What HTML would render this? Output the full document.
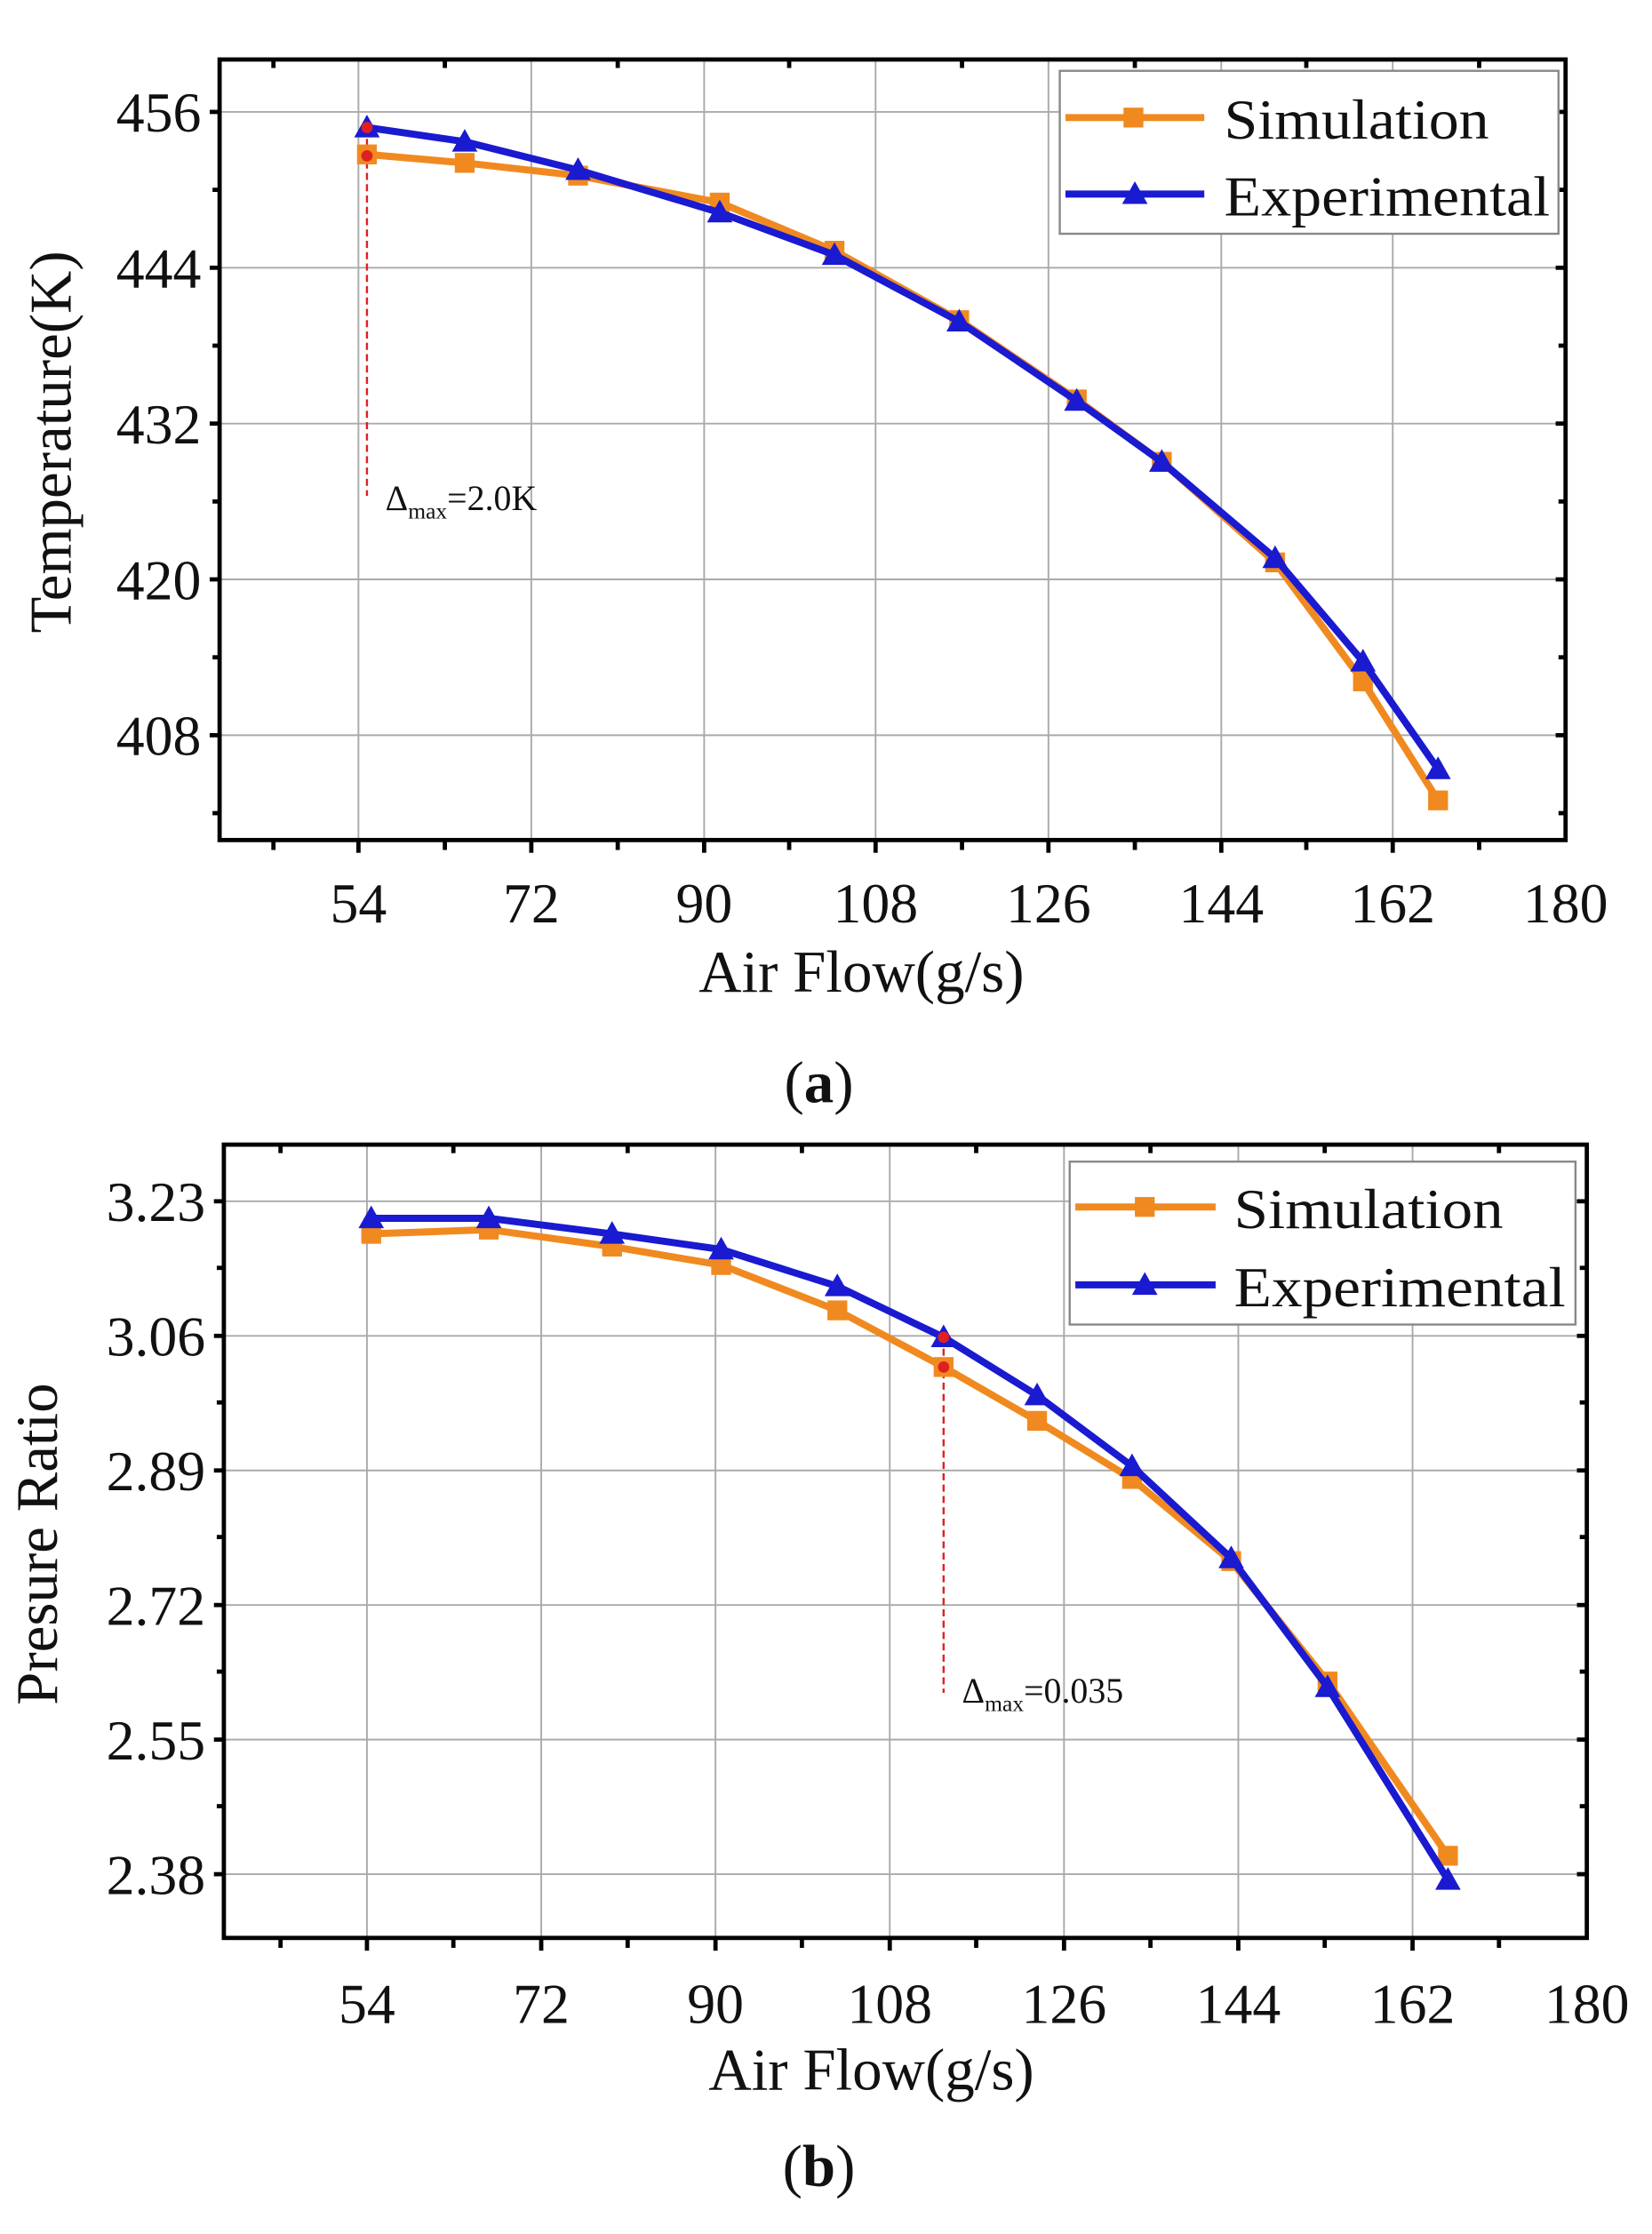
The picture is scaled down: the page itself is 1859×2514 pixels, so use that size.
<!DOCTYPE html>
<html><head><meta charset="utf-8"><style>
html,body{margin:0;padding:0;background:#fff;}
svg{display:block;}
text{font-family:"Liberation Serif",serif;fill:#111;}
</style></head><body>
<svg width="1859" height="2514" viewBox="0 0 1166 1577" preserveAspectRatio="none">
<!-- Panel A -->
<g stroke="#aaa" stroke-width="1.2">
<line x1="253" y1="42" x2="253" y2="593"/><line x1="375" y1="42" x2="375" y2="593"/><line x1="497" y1="42" x2="497" y2="593"/><line x1="618" y1="42" x2="618" y2="593"/><line x1="740" y1="42" x2="740" y2="593"/><line x1="862" y1="42" x2="862" y2="593"/><line x1="983" y1="42" x2="983" y2="593"/>
<line x1="155" y1="79" x2="1105" y2="79"/><line x1="155" y1="189" x2="1105" y2="189"/><line x1="155" y1="299" x2="1105" y2="299"/><line x1="155" y1="409" x2="1105" y2="409"/><line x1="155" y1="519" x2="1105" y2="519"/>
</g>
<rect x="155" y="42" width="950" height="551" fill="none" stroke="#000" stroke-width="3"/>
<g stroke="#000" stroke-width="3">
<line x1="148" y1="79" x2="155" y2="79"/><line x1="148" y1="189" x2="155" y2="189"/><line x1="148" y1="299" x2="155" y2="299"/><line x1="148" y1="409" x2="155" y2="409"/><line x1="148" y1="519" x2="155" y2="519"/>
<line x1="150" y1="134" x2="155" y2="134"/><line x1="150" y1="244" x2="155" y2="244"/><line x1="150" y1="354" x2="155" y2="354"/><line x1="150" y1="464" x2="155" y2="464"/><line x1="150" y1="574" x2="155" y2="574"/>
<line x1="1098" y1="79" x2="1105" y2="79"/><line x1="1098" y1="189" x2="1105" y2="189"/><line x1="1098" y1="299" x2="1105" y2="299"/><line x1="1098" y1="409" x2="1105" y2="409"/><line x1="1098" y1="519" x2="1105" y2="519"/><line x1="1100" y1="134" x2="1105" y2="134"/><line x1="1100" y1="244" x2="1105" y2="244"/><line x1="1100" y1="354" x2="1105" y2="354"/><line x1="1100" y1="464" x2="1105" y2="464"/><line x1="1100" y1="574" x2="1105" y2="574"/>
<line x1="193" y1="593" x2="193" y2="600"/><line x1="253" y1="593" x2="253" y2="602"/><line x1="314" y1="593" x2="314" y2="600"/><line x1="375" y1="593" x2="375" y2="602"/><line x1="436" y1="593" x2="436" y2="600"/><line x1="497" y1="593" x2="497" y2="602"/><line x1="557" y1="593" x2="557" y2="600"/><line x1="618" y1="593" x2="618" y2="602"/><line x1="679" y1="593" x2="679" y2="600"/><line x1="740" y1="593" x2="740" y2="602"/><line x1="801" y1="593" x2="801" y2="600"/><line x1="862" y1="593" x2="862" y2="602"/><line x1="922" y1="593" x2="922" y2="600"/><line x1="983" y1="593" x2="983" y2="602"/><line x1="1044" y1="593" x2="1044" y2="600"/>
<line x1="193" y1="42" x2="193" y2="48"/><line x1="314" y1="42" x2="314" y2="48"/><line x1="436" y1="42" x2="436" y2="48"/><line x1="557" y1="42" x2="557" y2="48"/><line x1="679" y1="42" x2="679" y2="48"/><line x1="801" y1="42" x2="801" y2="48"/><line x1="922" y1="42" x2="922" y2="48"/><line x1="1044" y1="42" x2="1044" y2="48"/>
</g>
<g font-size="40" text-anchor="end">
<text x="142" y="93">456</text><text x="142" y="203">444</text><text x="142" y="313">432</text><text x="142" y="423">420</text><text x="142" y="533">408</text>
</g>
<g font-size="40" text-anchor="middle">
<text x="253" y="651">54</text><text x="375" y="651">72</text><text x="497" y="651">90</text><text x="618" y="651">108</text><text x="740" y="651">126</text><text x="862" y="651">144</text><text x="983" y="651">162</text><text x="1105" y="651">180</text>
<text x="608" y="700" font-size="42">Air Flow(g/s)</text>
<text transform="translate(50,312) rotate(-90)" font-size="42">Temperature(K)</text>
<text x="578" y="778" font-size="42">(<tspan font-weight="bold">a</tspan>)</text>
</g>
<line x1="259" y1="90" x2="259" y2="350" stroke="#e02020" stroke-width="1.5" stroke-dasharray="5,3"/>
<text x="272" y="360" font-size="25">Δ<tspan font-size="16" dy="6">max</tspan><tspan dy="-6">=2.0K</tspan></text>
<polyline fill="none" stroke="#f08a20" stroke-width="5" points="259,109 328,115 408,124 508,143 589,177 677,226 760,282 820,326 900,397 962,481 1015,565"/>
<g fill="#f08a20">
<rect x="252" y="102" width="14" height="14"/><rect x="321" y="108" width="14" height="14"/><rect x="401" y="117" width="14" height="14"/><rect x="501" y="136" width="14" height="14"/><rect x="582" y="170" width="14" height="14"/><rect x="670" y="219" width="14" height="14"/><rect x="753" y="275" width="14" height="14"/><rect x="813" y="319" width="14" height="14"/><rect x="893" y="390" width="14" height="14"/><rect x="955" y="474" width="14" height="14"/><rect x="1008" y="558" width="14" height="14"/>
</g>
<polyline fill="none" stroke="#1a1ad0" stroke-width="5" points="259,90 328,100 408,120 508,150 589,180 677,227 760,283 820,326 900,394 962,467 1015,543"/>
<g fill="#1a1ad0">
<polygon points="259,81 250,97 268,97"/><polygon points="328,91 319,107 337,107"/><polygon points="408,111 399,127 417,127"/><polygon points="508,141 499,157 517,157"/><polygon points="589,171 580,187 598,187"/><polygon points="677,218 668,234 686,234"/><polygon points="760,274 751,290 769,290"/><polygon points="820,317 811,333 829,333"/><polygon points="900,385 891,401 909,401"/><polygon points="962,458 953,474 971,474"/><polygon points="1015,534 1006,550 1024,550"/>
</g>
<circle cx="259" cy="110" r="4" fill="#e02020"/><circle cx="259" cy="90" r="4" fill="#e02020"/>
<rect x="748" y="50" width="352" height="115" fill="#fff" stroke="#888" stroke-width="1.5"/>
<line x1="752" y1="83" x2="850" y2="83" stroke="#f08a20" stroke-width="5"/><rect x="793" y="76" width="14" height="14" fill="#f08a20"/>
<line x1="752" y1="137" x2="850" y2="137" stroke="#1a1ad0" stroke-width="5"/><polygon points="801,128 792,144 810,144" fill="#1a1ad0"/>
<text x="864" y="98" font-size="40" textLength="187" lengthAdjust="spacingAndGlyphs">Simulation</text><text x="864" y="152" font-size="40" textLength="230" lengthAdjust="spacingAndGlyphs">Experimental</text>

<!-- Panel B -->
<g stroke="#aaa" stroke-width="1.2">
<line x1="259" y1="808" x2="259" y2="1368"/><line x1="382" y1="808" x2="382" y2="1368"/><line x1="505" y1="808" x2="505" y2="1368"/><line x1="628" y1="808" x2="628" y2="1368"/><line x1="751" y1="808" x2="751" y2="1368"/><line x1="874" y1="808" x2="874" y2="1368"/><line x1="997" y1="808" x2="997" y2="1368"/>
<line x1="158" y1="848" x2="1120" y2="848"/><line x1="158" y1="943" x2="1120" y2="943"/><line x1="158" y1="1038" x2="1120" y2="1038"/><line x1="158" y1="1133" x2="1120" y2="1133"/><line x1="158" y1="1228" x2="1120" y2="1228"/><line x1="158" y1="1323" x2="1120" y2="1323"/>
</g>
<rect x="158" y="808" width="962" height="560" fill="none" stroke="#000" stroke-width="3"/>
<g stroke="#000" stroke-width="3">
<line x1="151" y1="848" x2="158" y2="848"/><line x1="151" y1="943" x2="158" y2="943"/><line x1="151" y1="1038" x2="158" y2="1038"/><line x1="151" y1="1133" x2="158" y2="1133"/><line x1="151" y1="1228" x2="158" y2="1228"/><line x1="151" y1="1323" x2="158" y2="1323"/>
<line x1="153" y1="895" x2="158" y2="895"/><line x1="153" y1="990" x2="158" y2="990"/><line x1="153" y1="1085" x2="158" y2="1085"/><line x1="153" y1="1180" x2="158" y2="1180"/><line x1="153" y1="1275" x2="158" y2="1275"/>
<line x1="1113" y1="848" x2="1120" y2="848"/><line x1="1113" y1="943" x2="1120" y2="943"/><line x1="1113" y1="1038" x2="1120" y2="1038"/><line x1="1113" y1="1133" x2="1120" y2="1133"/><line x1="1113" y1="1228" x2="1120" y2="1228"/><line x1="1113" y1="1323" x2="1120" y2="1323"/><line x1="1115" y1="895" x2="1120" y2="895"/><line x1="1115" y1="990" x2="1120" y2="990"/><line x1="1115" y1="1085" x2="1120" y2="1085"/><line x1="1115" y1="1180" x2="1120" y2="1180"/><line x1="1115" y1="1275" x2="1120" y2="1275"/>
<line x1="198" y1="1368" x2="198" y2="1375"/><line x1="259" y1="1368" x2="259" y2="1377"/><line x1="320" y1="1368" x2="320" y2="1375"/><line x1="382" y1="1368" x2="382" y2="1377"/><line x1="443" y1="1368" x2="443" y2="1375"/><line x1="505" y1="1368" x2="505" y2="1377"/><line x1="566" y1="1368" x2="566" y2="1375"/><line x1="628" y1="1368" x2="628" y2="1377"/><line x1="689" y1="1368" x2="689" y2="1375"/><line x1="751" y1="1368" x2="751" y2="1377"/><line x1="812" y1="1368" x2="812" y2="1375"/><line x1="874" y1="1368" x2="874" y2="1377"/><line x1="935" y1="1368" x2="935" y2="1375"/><line x1="997" y1="1368" x2="997" y2="1377"/><line x1="1058" y1="1368" x2="1058" y2="1375"/>
<line x1="198" y1="808" x2="198" y2="814"/><line x1="320" y1="808" x2="320" y2="814"/><line x1="443" y1="808" x2="443" y2="814"/><line x1="566" y1="808" x2="566" y2="814"/><line x1="689" y1="808" x2="689" y2="814"/><line x1="812" y1="808" x2="812" y2="814"/><line x1="935" y1="808" x2="935" y2="814"/><line x1="1058" y1="808" x2="1058" y2="814"/>
</g>
<g font-size="40" text-anchor="end">
<text x="145" y="862">3.23</text><text x="145" y="957">3.06</text><text x="145" y="1052">2.89</text><text x="145" y="1147">2.72</text><text x="145" y="1242">2.55</text><text x="145" y="1337">2.38</text>
</g>
<g font-size="40" text-anchor="middle">
<text x="259" y="1428">54</text><text x="382" y="1428">72</text><text x="505" y="1428">90</text><text x="628" y="1428">108</text><text x="751" y="1428">126</text><text x="874" y="1428">144</text><text x="997" y="1428">162</text><text x="1120" y="1428">180</text>
<text x="615" y="1475" font-size="42">Air Flow(g/s)</text>
<text transform="translate(40,1090) rotate(-90)" font-size="42">Presure Ratio</text>
<text x="578" y="1543" font-size="42">(<tspan font-weight="bold">b</tspan>)</text>
</g>
<line x1="666" y1="944" x2="666" y2="1195" stroke="#e02020" stroke-width="1.5" stroke-dasharray="5,3"/>
<text x="679" y="1202" font-size="25">Δ<tspan font-size="16" dy="6">max</tspan><tspan dy="-6">=0.035</tspan></text>
<polyline fill="none" stroke="#f08a20" stroke-width="5" points="262,871 345,868 432,880 509,893 591,925 666,965 732,1003 799,1044 869,1102 937,1187 1022,1310"/>
<g fill="#f08a20">
<rect x="255" y="864" width="14" height="14"/><rect x="338" y="861" width="14" height="14"/><rect x="425" y="873" width="14" height="14"/><rect x="502" y="886" width="14" height="14"/><rect x="584" y="918" width="14" height="14"/><rect x="659" y="958" width="14" height="14"/><rect x="725" y="996" width="14" height="14"/><rect x="792" y="1037" width="14" height="14"/><rect x="862" y="1095" width="14" height="14"/><rect x="930" y="1180" width="14" height="14"/><rect x="1015" y="1303" width="14" height="14"/>
</g>
<polyline fill="none" stroke="#1a1ad0" stroke-width="5" points="262,860 345,860 432,871 509,882 591,908 666,944 732,985 799,1035 869,1100 937,1191 1022,1327"/>
<g fill="#1a1ad0">
<polygon points="262,851 253,867 271,867"/><polygon points="345,851 336,867 354,867"/><polygon points="432,862 423,878 441,878"/><polygon points="509,873 500,889 518,889"/><polygon points="591,899 582,915 600,915"/><polygon points="666,935 657,951 675,951"/><polygon points="732,976 723,992 741,992"/><polygon points="799,1026 790,1042 808,1042"/><polygon points="869,1091 860,1107 878,1107"/><polygon points="937,1182 928,1198 946,1198"/><polygon points="1022,1318 1013,1334 1031,1334"/>
</g>
<circle cx="666" cy="965" r="4" fill="#e02020"/><circle cx="666" cy="944" r="4" fill="#e02020"/>
<rect x="755" y="820" width="357" height="115" fill="#fff" stroke="#888" stroke-width="1.5"/>
<line x1="759" y1="852" x2="858" y2="852" stroke="#f08a20" stroke-width="5"/><rect x="801" y="845" width="14" height="14" fill="#f08a20"/>
<line x1="759" y1="907" x2="858" y2="907" stroke="#1a1ad0" stroke-width="5"/><polygon points="808,898 799,914 817,914" fill="#1a1ad0"/>
<text x="871" y="867" font-size="40" textLength="190" lengthAdjust="spacingAndGlyphs">Simulation</text><text x="871" y="922" font-size="40" textLength="234" lengthAdjust="spacingAndGlyphs">Experimental</text>
</svg>
</body></html>
